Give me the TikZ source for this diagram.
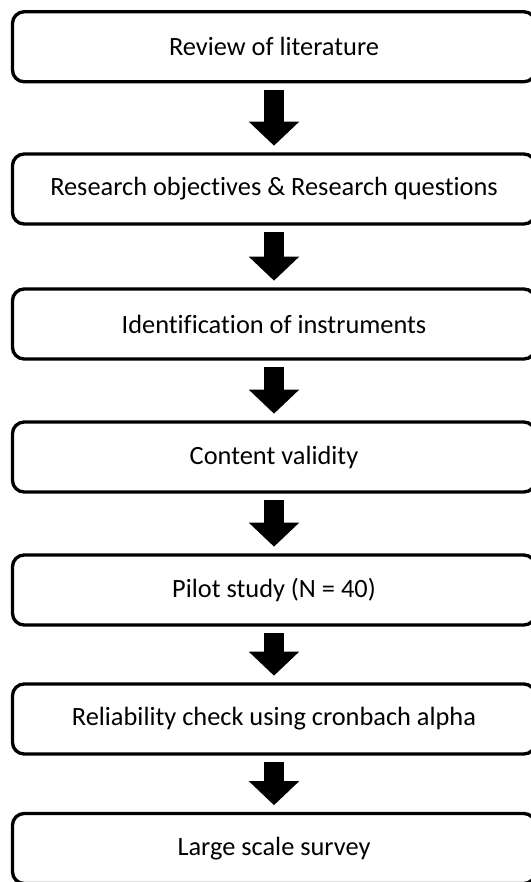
\documentclass[tikz,border=0pt]{standalone}
\usepackage{fontspec}
\setmainfont[Ligatures=NoCommon]{Carlito}
\usetikzlibrary{arrows.meta}
\begin{document}
\begin{tikzpicture}[x=0.03cm,y=-0.03cm,
  stagebox/.style={draw,line width=0.1cm,rounded corners=0.35cm,minimum width=15.69cm,minimum height=2.1cm,font=\fontsize{22.5}{27}\selectfont},
  fatarrow/.style={line width=0.6cm,-{Triangle[width=1.47cm,length=0.72cm]},shorten <=0.2cm,shorten >=0.2cm}]
\useasboundingbox (0,0) rectangle (531,882);
\clip (0,0) rectangle (531,882);
\foreach \n/\y/\t in {lit/46.75/Review of literature,
  obj/189/Research objectives \& Research questions,
  ins/324/Identification of instruments,
  val/457/Content validity,
  pil/590/Pilot study (N = 40),
  rel/719/Reliability check using cronbach alpha,
  sur/848.5/Large scale survey}
  \node[stagebox] (\n) at (274,\y) {\t};
\foreach \a/\b in {lit/obj,obj/ins,ins/val,val/pil,pil/rel,rel/sur}
  \draw[fatarrow] (\a) -- (\b);
\end{tikzpicture}
\end{document}
